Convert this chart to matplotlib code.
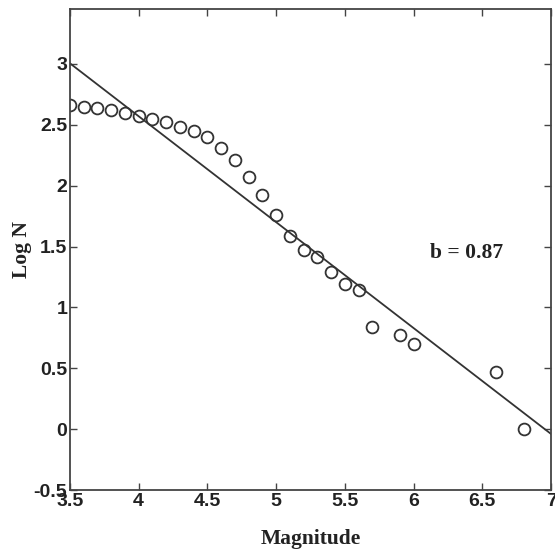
import matplotlib.pyplot as plt
import numpy as np

magnitude = [3.5, 3.6, 3.7, 3.8, 3.9, 4.0, 4.1, 4.2, 4.3, 4.4, 4.5, 4.6, 4.7,
             4.8, 4.9, 5.0, 5.1, 5.2, 5.3, 5.4, 5.5, 5.6, 5.7, 5.9, 6.0, 6.6, 6.8]
log_n = [2.66, 2.65, 2.64, 2.62, 2.60, 2.57, 2.55, 2.52, 2.48, 2.45, 2.40, 2.31,
         2.21, 2.07, 1.92, 1.76, 1.59, 1.47, 1.41, 1.29, 1.19, 1.14, 0.84, 0.77,
         0.70, 0.47, 0.0]

# Gutenberg-Richter fit: log N = a - b*M
a_val = 6.05
b_val = 0.87
fit_x = [3.5, 7.0]

plt.rcParams['font.family'] = ['Liberation Serif', 'DejaVu Serif']

fig = plt.figure(figsize=(5.55, 5.54), dpi=100)
ax = fig.add_axes([0.126, 0.1155, 0.867, 0.868])

fx = np.array(fit_x)
ax.plot(fx, a_val - b_val * fx, color='#333333', lw=1.3)
ax.plot(magnitude, log_n, 'o', mfc='none', mec='#333333', ms=8.5, mew=1.3)

ax.text(6.12, 1.45, 'b = 0.87', fontsize=15.5, fontweight='bold', va='center',
        color='#222222')

ax.set_xlim(3.5, 7)
ax.set_ylim(-0.5, 3.45)
ax.set_xticks([3.5, 4, 4.5, 5, 5.5, 6, 6.5, 7])
ax.set_xticklabels(['3.5', '4', '4.5', '5', '5.5', '6', '6.5', '7'])
ax.set_yticks([-0.5, 0, 0.5, 1, 1.5, 2, 2.5, 3])
ax.set_yticklabels(['-0.5', '0', '0.5', '1', '1.5', '2', '2.5', '3'])
ax.tick_params(direction='in', top=True, right=True, length=5, width=1,
               color='#444444', pad=2, labelcolor='#222222')
for lab in ax.get_xticklabels() + ax.get_yticklabels():
    lab.set_family('Liberation Sans')
    lab.set_fontweight('bold')
    lab.set_fontsize(14)
for s in ax.spines.values():
    s.set_linewidth(1.3)
    s.set_color('#444444')

ax.set_xlabel('Magnitude', fontsize=15.5, fontweight='bold', labelpad=14,
              color='#222222')
ax.set_ylabel('Log N', fontsize=15.5, fontweight='bold', labelpad=1,
              color='#222222')

plt.savefig('out.png', dpi=100)
